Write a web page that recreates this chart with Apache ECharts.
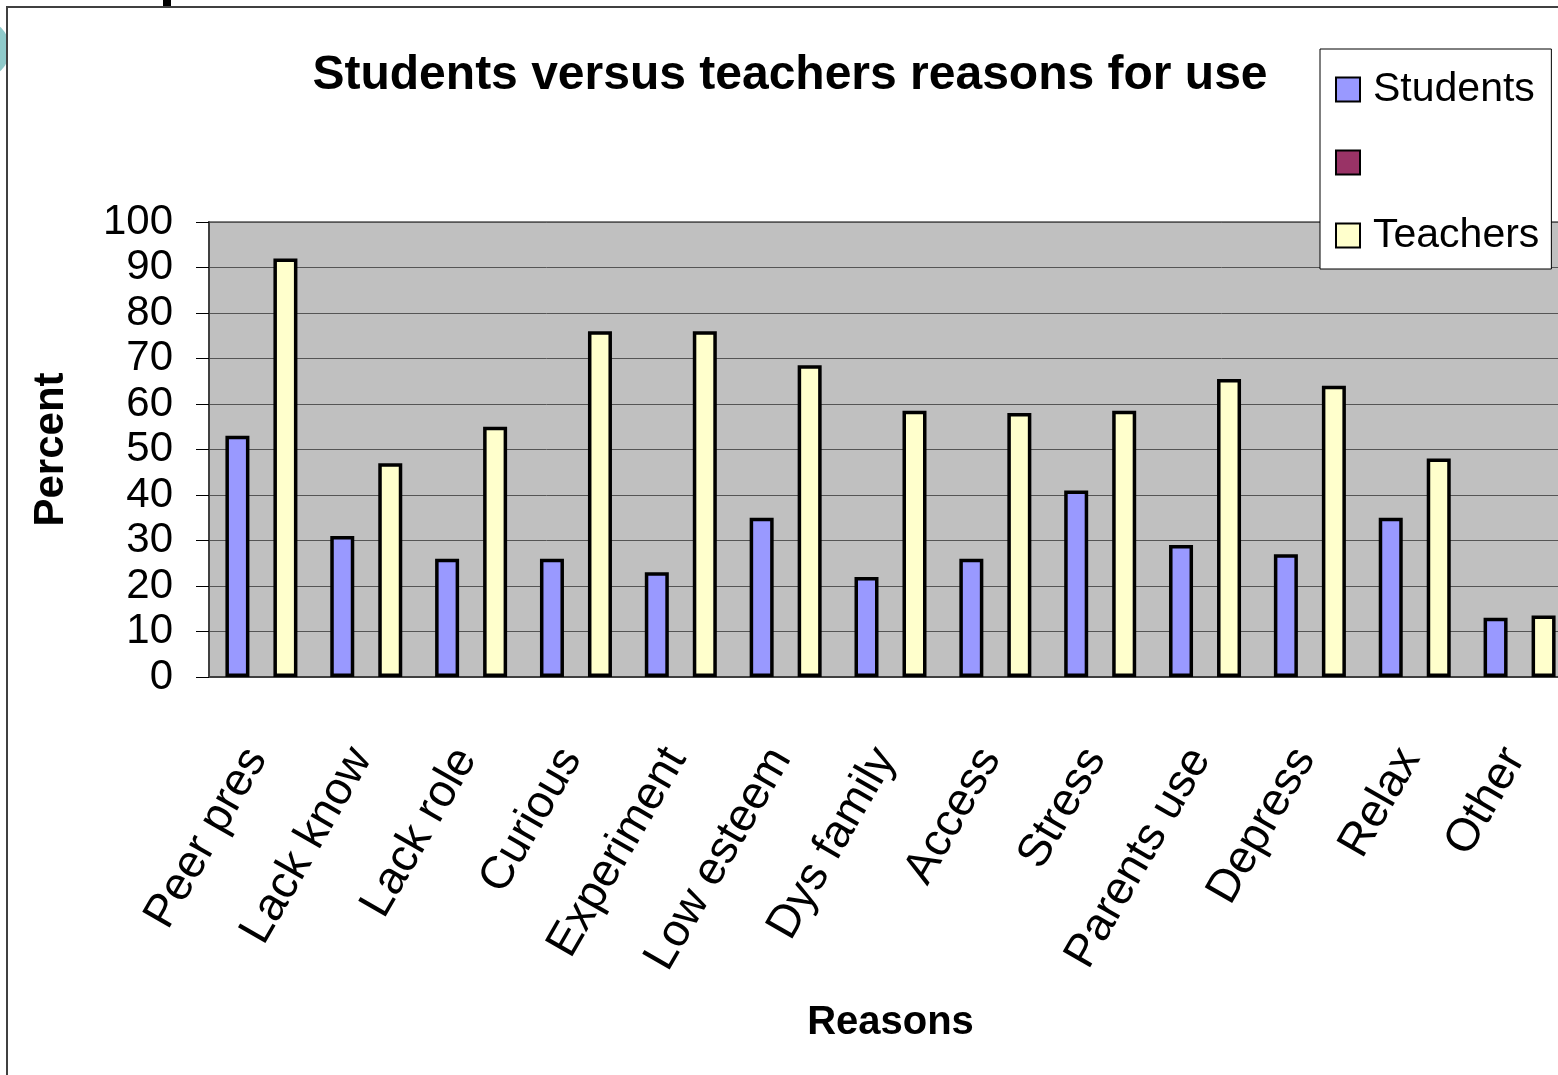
<!DOCTYPE html>
<html>
<head>
<meta charset="utf-8">
<script src="https://cdn.jsdelivr.net/npm/echarts@6/dist/echarts.min.js"></script>
<style>
  html, body { margin: 0; padding: 0; background: #fff; }
  #chart { width: 1558px; height: 1075px; }
</style>
</head>
<body>
<div id="chart"></div>
<script>
var reasons = ['Peer pres', 'Lack know', 'Lack role', 'Curious', 'Experiment', 'Low esteem',
               'Dys family', 'Access', 'Stress', 'Parents use', 'Depress', 'Relax', 'Other'];
var students = [53, 31, 26, 26, 23, 35, 22, 26, 41, 29, 27, 35, 13];
var blankSeries = [];   // second series in the legend has no name and no bars
var teachers = [92, 47, 55, 76, 76, 68.5, 58.5, 58, 58.5, 65.5, 64, 48, 13.5];
var yTicks = [0, 100, 10];

var font = 'Arial, "Liberation Sans", sans-serif';

var chart = echarts.init(document.getElementById('chart'));
chart.setOption({
    backgroundColor: '#fff',
    animation: false,
    title: {
        text: 'Students versus teachers reasons for use',
        left: 790,
        top: 52,
        padding: 0,
        textAlign: 'center',
        textStyle: { fontFamily: font, fontSize: 48, fontWeight: 'bold', color: '#000' }
    },
    legend: {
        orient: 'vertical',
        left: 1320,
        top: 49,
        padding: [20, 12, 13, 15],
        itemGap: 32,
        itemWidth: 24,
        itemHeight: 24,
        backgroundColor: '#fff',
        borderColor: '#000',
        borderWidth: 1,
        borderRadius: 0,
        icon: 'rect',
        itemStyle: { borderColor: '#000', borderWidth: 2 },
        textStyle: { fontFamily: font, fontSize: 41, lineHeight: 41, color: '#000', padding: [0, 0, 0, 8] },
        data: ['Students', ' ', 'Teachers']
    },
    grid: {
        left: 209,
        top: 222,
        right: -14,
        bottom: 398,
        show: true,
        backgroundColor: '#c0c0c0',
        borderColor: '#808080',
        borderWidth: 2,
        containLabel: false,
        outerBoundsMode: 'none'
    },
    xAxis: {
        type: 'category',
        data: reasons,
        name: 'Reasons',
        nameLocation: 'middle',
        nameGap: 326,
        nameTextStyle: { fontFamily: font, fontSize: 40, fontWeight: 'bold', color: '#000' },
        axisLine: { lineStyle: { color: '#404040', width: 2 } },
        axisTick: { length: 13, lineStyle: { color: '#808080', width: 1.5 } },
        axisLabel: { interval: 0, rotate: 60, margin: 66, padding: [0, 10, 0, 0],
                     fontFamily: font, fontSize: 46, color: '#000' }
    },
    yAxis: {
        type: 'value',
        min: yTicks[0],
        max: yTicks[1],
        interval: yTicks[2],
        name: 'Percent',
        nameLocation: 'middle',
        nameGap: 137,
        nameTextStyle: { fontFamily: font, fontSize: 42, fontWeight: 'bold', color: '#000' },
        axisLine: { show: true, lineStyle: { color: '#404040', width: 2 } },
        axisTick: { show: true, length: 13, lineStyle: { color: '#000', width: 1 } },
        axisLabel: { margin: 36, fontFamily: font, fontSize: 42, color: '#000' },
        splitLine: { lineStyle: { color: '#555', width: 1 } }
    },
    series: [
        {
            name: 'Students',
            type: 'bar',
            barWidth: 24,
            barGap: '0%',
            itemStyle: { color: '#9999ff', borderColor: '#000', borderWidth: 3.5 },
            data: students
        },
        {
            name: ' ',
            type: 'bar',
            barWidth: 24,
            barGap: '0%',
            itemStyle: { color: '#993366', borderColor: '#000', borderWidth: 3.5 },
            data: blankSeries
        },
        {
            name: 'Teachers',
            type: 'bar',
            barWidth: 24,
            barGap: '0%',
            itemStyle: { color: '#ffffcc', borderColor: '#000', borderWidth: 3.5 },
            data: teachers
        }
    ],
    graphic: [
        {   // slide decoration peeking out on the left
            type: 'circle', z: -3,
            shape: { cx: -20, cy: 49, r: 30 },
            style: { fill: '#8fcaca' }
        },
        {   // chart frame
            type: 'rect', z: -2,
            shape: { x: 7, y: 7, width: 1700, height: 1200 },
            style: { fill: '#fff', stroke: '#404040', lineWidth: 2 }
        },
        {   // stray glyph from the slide title above
            type: 'rect', z: -1,
            shape: { x: 163, y: 0, width: 8, height: 6 },
            style: { fill: '#000' }
        }
    ]
});
</script>
</body>
</html>
